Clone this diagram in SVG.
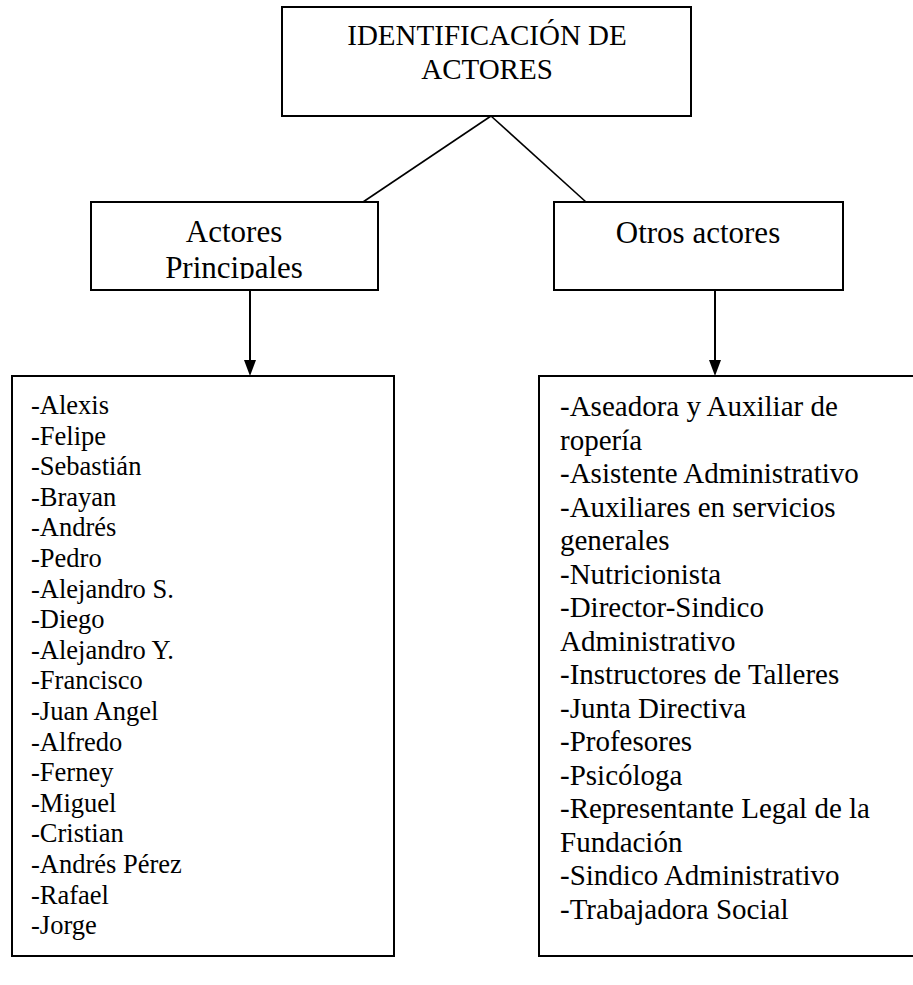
<svg xmlns="http://www.w3.org/2000/svg" width="913" height="985" viewBox="0 0 913 985">
<style>
.box{fill:#fff;stroke:#000;stroke-width:2}
.t{font-family:"Liberation Serif","Times New Roman",serif;fill:#000}
.ln{stroke:#000;stroke-width:1.6;fill:none}
</style>
<defs>
<clipPath id="cpL"><rect x="91" y="203" width="286" height="76"/></clipPath>
</defs>
<rect width="913" height="985" fill="#fff"/>
<g id="connectors">
<line class="ln" x1="491" y1="116" x2="363" y2="202"/>
<line class="ln" x1="491" y1="116" x2="586" y2="202"/>
<path d="M250,290 V360" stroke="#000" stroke-width="2"/>
<path d="M244,360 L256,360 L250,376 Z" fill="#000"/>
<path d="M715,290 V360" stroke="#000" stroke-width="2"/>
<path d="M709,360 L721,360 L715,376 Z" fill="#000"/>
</g>
<g id="root">
<rect class="box" x="282" y="7" width="409" height="109"/>
<text class="t" font-size="29" text-anchor="middle" x="487" y="45">IDENTIFICACIÓN DE</text>
<text class="t" font-size="29" text-anchor="middle" x="487" y="79">ACTORES</text>
</g>
<g id="principales">
<rect class="box" x="91" y="202" width="287" height="88"/>
<g clip-path="url(#cpL)">
<text class="t" font-size="31" text-anchor="middle" x="234" y="242">Actores</text>
<text class="t" font-size="31" text-anchor="middle" x="234" y="278">Principales</text>
</g>
</g>
<g id="otros">
<rect class="box" x="554" y="202" width="289" height="88"/>
<text class="t" font-size="31" text-anchor="middle" x="698" y="243">Otros actores</text>
</g>
<g id="lista-principales">
<rect class="box" x="12" y="376" width="382" height="580"/>
<text class="t" font-size="26.5" x="31">
<tspan x="31" y="414">-Alexis</tspan>
<tspan x="31" y="444.6">-Felipe</tspan>
<tspan x="31" y="475.2">-Sebastián</tspan>
<tspan x="31" y="505.8">-Brayan</tspan>
<tspan x="31" y="536.4">-Andrés</tspan>
<tspan x="31" y="567">-Pedro</tspan>
<tspan x="31" y="597.6">-Alejandro S.</tspan>
<tspan x="31" y="628.2">-Diego</tspan>
<tspan x="31" y="658.8">-Alejandro Y.</tspan>
<tspan x="31" y="689.4">-Francisco</tspan>
<tspan x="31" y="720">-Juan Angel</tspan>
<tspan x="31" y="750.6">-Alfredo</tspan>
<tspan x="31" y="781.2">-Ferney</tspan>
<tspan x="31" y="811.8">-Miguel</tspan>
<tspan x="31" y="842.4">-Cristian</tspan>
<tspan x="31" y="873">-Andrés Pérez</tspan>
<tspan x="31" y="903.6">-Rafael</tspan>
<tspan x="31" y="934.2">-Jorge</tspan>
</text>
</g>
<g id="lista-otros">
<rect class="box" x="539" y="376" width="380" height="580"/>
<text class="t" font-size="29" x="560">
<tspan x="560" y="416">-Aseadora y Auxiliar de</tspan>
<tspan x="560" y="449.5">ropería</tspan>
<tspan x="560" y="483">-Asistente Administrativo</tspan>
<tspan x="560" y="516.5">-Auxiliares en servicios</tspan>
<tspan x="560" y="550">generales</tspan>
<tspan x="560" y="583.5">-Nutricionista</tspan>
<tspan x="560" y="617">-Director-Sindico</tspan>
<tspan x="560" y="650.5">Administrativo</tspan>
<tspan x="560" y="684">-Instructores de Talleres</tspan>
<tspan x="560" y="717.5">-Junta Directiva</tspan>
<tspan x="560" y="751">-Profesores</tspan>
<tspan x="560" y="784.5">-Psicóloga</tspan>
<tspan x="560" y="818">-Representante Legal de la</tspan>
<tspan x="560" y="851.5">Fundación</tspan>
<tspan x="560" y="885">-Sindico Administrativo</tspan>
<tspan x="560" y="918.5">-Trabajadora Social</tspan>
</text>
</g>
</svg>
